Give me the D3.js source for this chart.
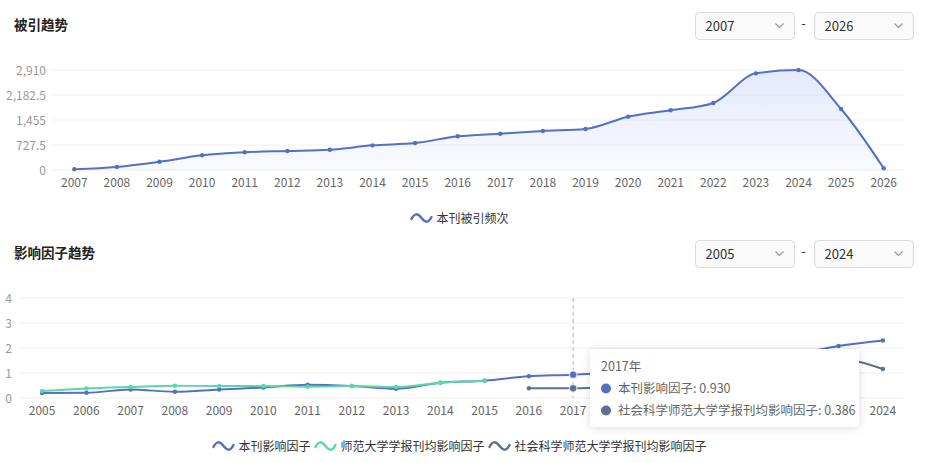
<!DOCTYPE html>
<html>
<head>
<meta charset="utf-8">
<script src="https://cdn.jsdelivr.net/npm/d3@7"></script>
<style>
  html, body { margin: 0; padding: 0; background: #fff; }
  svg { display: block; font-family: "Noto Sans CJK SC", "Microsoft YaHei", sans-serif; }
  .grid line { stroke: #f0f0f0; }
</style>
</head>
<body>
<svg id="chart" width="933" height="463"></svg>
<script>
// citation trend
const citeYears = ['2007','2008','2009','2010','2011','2012','2013','2014','2015','2016',
  '2017','2018','2019','2020','2021','2022','2023','2024','2025','2026'];
const citeValues = [20, 90, 240, 428, 515, 553, 590, 718, 786, 980,
  1057, 1135, 1193, 1552, 1737, 1950, 2813, 2910, 1775, 50];
const citeTicks = [0, 727.5, 1455, 2182.5, 2910];

// impact factor trend
const ifYears = ['2005','2006','2007','2008','2009','2010','2011','2012','2013','2014',
  '2015','2016','2017','2018','2019','2020','2021','2022','2023','2024'];
const ifJournal = [0.20, 0.21, 0.34, 0.25, 0.34, 0.42, 0.53, 0.48, 0.37, 0.61,
  0.69, 0.87, 0.930, 1.05, 1.20, 1.40, 1.55, 1.75, 2.08, 2.30];
const ifNormal = [0.28, 0.38, 0.44, 0.49, 0.48, 0.48, 0.45, 0.48, 0.44, 0.61,
  0.69, null, null, null, null, null, null, null, null, null];
const ifSocial = [null, null, null, null, null, null, null, null, null, null,
  null, 0.39, 0.386, 0.45, 0.55, 0.75, 0.95, 1.25, 1.55, 1.16];
const ifTicks = [0, 1, 2, 3, 4];

const ifSeries = [
  { name: '本刊影响因子', values: ifJournal, color: '#5470c6' },
  { name: '师范大学学报刊均影响因子', values: ifNormal, color: '#5ad8a6' },
  { name: '社会科学师范大学学报刊均影响因子', values: ifSocial, color: '#5d7092' },
];
const hoverYear = '2017';

const svg = d3.select('#chart');
const defs = svg.append('defs');

const grad = defs.append('linearGradient')
  .attr('id', 'areaGrad').attr('x1', 0).attr('y1', 0).attr('x2', 0).attr('y2', 1);
grad.append('stop').attr('offset', '0%').attr('stop-color', '#7f9ff5').attr('stop-opacity', 0.22);
grad.append('stop').attr('offset', '100%').attr('stop-color', '#7f9ff5').attr('stop-opacity', 0.05);

const shadow = defs.append('filter').attr('id', 'shadow')
  .attr('x', '-10%').attr('y', '-20%').attr('width', '120%').attr('height', '150%');
shadow.append('feDropShadow').attr('dx', 0).attr('dy', 1).attr('stdDeviation', 4)
  .attr('flood-color', '#000').attr('flood-opacity', 0.14);

function wave(g, color) {
  g.append('path')
    .attr('d', 'M0,1 C3,-5 6,-5 10,0 S17,5 20,-1')
    .attr('fill', 'none').attr('stroke', color)
    .attr('stroke-width', 2.5).attr('stroke-linecap', 'round');
}

function header(y, title, from, to) {
  svg.append('text').attr('x', 14).attr('y', y + 5)
    .attr('font-size', 13.5).attr('font-weight', 'bold').attr('fill', '#222').text(title);
  [[695.5, from], [814.5, to]].forEach(([x, label]) => {
    const g = svg.append('g').attr('transform', `translate(${x},${y - 12.5})`);
    g.append('rect').attr('width', 99).attr('height', 27).attr('rx', 4)
      .attr('fill', '#fafafa').attr('stroke', '#dadada');
    g.append('text').attr('x', 10).attr('y', 18.5).attr('font-size', 13)
      .attr('fill', '#333').text(label);
    g.append('path').attr('d', 'M80,11 L84,15 L88,11')
      .attr('fill', 'none').attr('stroke', '#999').attr('stroke-width', 1.2);
  });
  svg.append('text').attr('x', 803.5).attr('y', y + 3).attr('text-anchor', 'middle')
    .attr('font-size', 13).attr('fill', '#333').text('-');
}

function legend(cy, items) {
  const g = svg.append('g');
  let x = 0;
  items.forEach(it => {
    const ig = g.append('g').attr('transform', `translate(${x},${cy})`);
    wave(ig, it.color);
    const t = ig.append('text').attr('x', 25).attr('y', 4.5).attr('font-size', 12)
      .attr('fill', '#333').text(it.name);
    x += 25 + t.node().getComputedTextLength() + 5;
  });
  x -= 5;
  g.attr('transform', `translate(${460 - x / 2},0)`);
}

// ---------- top chart ----------
header(25, '被引趋势', '2007', '2026');

const x1 = d3.scaleBand().domain(citeYears).range([53, 905]);
const y1 = d3.scaleLinear().domain([0, 2910]).range([170, 70]);
const cx1 = d => x1(d) + x1.bandwidth() / 2;

svg.append('g').attr('class', 'grid')
  .selectAll('line').data(citeTicks).join('line')
  .attr('x1', 53).attr('x2', 905).attr('y1', d => y1(d)).attr('y2', d => y1(d));

svg.append('g').selectAll('text').data(citeTicks).join('text')
  .attr('x', 46).attr('y', d => y1(d) + 4.5).attr('text-anchor', 'end')
  .attr('font-size', 12).attr('fill', '#999').text(d3.format(','));

svg.append('g').selectAll('text').data(citeYears).join('text')
  .attr('x', cx1).attr('y', 187).attr('text-anchor', 'middle')
  .attr('font-size', 12).attr('fill', '#666').text(d => d);

const citePts = citeYears.map((yr, i) => [cx1(yr), y1(citeValues[i])]);

svg.append('path').datum(citePts)
  .attr('fill', 'url(#areaGrad)')
  .attr('d', d3.area().x(d => d[0]).y0(y1(0)).y1(d => d[1]).curve(d3.curveMonotoneX));

svg.append('path').datum(citePts)
  .attr('fill', 'none').attr('stroke', '#5470c6').attr('stroke-width', 2)
  .attr('d', d3.line().curve(d3.curveMonotoneX));

svg.append('g').selectAll('circle').data(citePts).join('circle')
  .attr('cx', d => d[0]).attr('cy', d => d[1]).attr('r', 2.2).attr('fill', '#5470c6');

legend(218, [{ name: '本刊被引频次', color: '#5470c6' }]);

// ---------- bottom chart ----------
header(253, '影响因子趋势', '2005', '2024');

const x2 = d3.scaleBand().domain(ifYears).range([20, 905]);
const y2 = d3.scaleLinear().domain([0, 4]).range([398, 298]);
const cx2 = d => x2(d) + x2.bandwidth() / 2;

svg.append('g').attr('class', 'grid')
  .selectAll('line').data(ifTicks).join('line')
  .attr('x1', 20).attr('x2', 905).attr('y1', d => y2(d)).attr('y2', d => y2(d));

svg.append('g').selectAll('text').data(ifTicks).join('text')
  .attr('x', 12).attr('y', d => y2(d) + 4.5).attr('text-anchor', 'end')
  .attr('font-size', 12).attr('fill', '#999').text(d => d);

svg.append('g').selectAll('text').data(ifYears).join('text')
  .attr('x', cx2).attr('y', 415).attr('text-anchor', 'middle')
  .attr('font-size', 12).attr('fill', '#666').text(d => d);

// axis pointer
svg.append('line')
  .attr('x1', cx2(hoverYear)).attr('x2', cx2(hoverYear))
  .attr('y1', y2(4)).attr('y2', y2(0))
  .attr('stroke', '#b8b8b8').attr('stroke-dasharray', '4,3');

const hi = ifYears.indexOf(hoverYear);
ifSeries.forEach(s => {
  const pts = ifYears.map((yr, i) => ({ x: cx2(yr), v: s.values[i], i }));
  svg.append('path').datum(pts)
    .attr('fill', 'none').attr('stroke', s.color).attr('stroke-width', 2)
    .attr('d', d3.line().defined(d => d.v != null)
      .x(d => d.x).y(d => y2(d.v)).curve(d3.curveMonotoneX));
  svg.append('g').selectAll('circle').data(pts.filter(d => d.v != null)).join('circle')
    .attr('cx', d => d.x).attr('cy', d => y2(d.v))
    .attr('r', d => d.i === hi ? 3.8 : 2.2)
    .attr('fill', s.color)
    .attr('stroke', d => d.i === hi ? 'rgba(255,255,255,0.6)' : 'none')
    .attr('stroke-width', 1.5);
});

legend(446, ifSeries);

// tooltip
const rows = ifSeries.filter(s => s.values[hi] != null);
const tip = svg.append('g').attr('transform', 'translate(590,349)');
tip.append('rect').attr('width', 269).attr('height', 78).attr('rx', 4)
  .attr('fill', '#fff').attr('filter', 'url(#shadow)');
tip.append('text').attr('x', 11).attr('y', 22).attr('font-size', 12.5)
  .attr('fill', '#666').text(hoverYear + '年');
rows.forEach((s, k) => {
  const ry = 39.5 + k * 22;
  tip.append('circle').attr('cx', 16).attr('cy', ry).attr('r', 5).attr('fill', s.color);
  tip.append('text').attr('x', 28).attr('y', ry + 4.5).attr('font-size', 12.5)
    .attr('fill', '#666').text(`${s.name}: ${d3.format('.3f')(s.values[hi])}`);
});
</script>
</body>
</html>
